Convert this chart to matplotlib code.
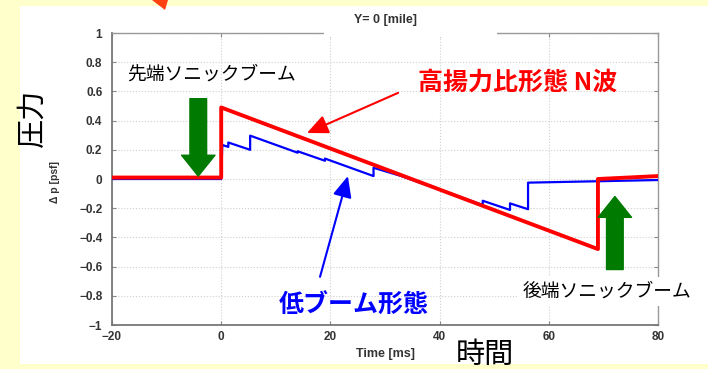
import numpy as np
import matplotlib.pyplot as plt
from matplotlib.patches import Rectangle, Polygon

# 高揚力比形態 N波 (red) and 低ブーム形態 (blue)
redTime = [-20, 0, 0, 69, 69, 80]
redDp = [0.01, 0.01, 0.49, -0.48, 0.0, 0.02]

blueTime = [-20, 0, 0.2, 1.3, 1.3, 5.3, 5.3, 14.0, 14.0, 19.0, 19.0, 27.9, 27.9,
            33.0, 47.9, 47.9, 52.9, 52.9, 56.2, 56.2, 80]
blueDp = [0.0, 0.0, 0.233, 0.22, 0.25, 0.2, 0.297, 0.18, 0.19, 0.125, 0.14, 0.02, 0.077,
          0.02, -0.178, -0.149, -0.212, -0.167, -0.207, -0.025, -0.007]

xTicks = [-20, 0, 20, 40, 60, 80]
yTicks = [-1, -0.8, -0.6, -0.4, -0.2, 0, 0.2, 0.4, 0.6, 0.8, 1]
yTickLabels = ["\u22121", "\u22120.8", "\u22120.6", "\u22120.4", "\u22120.2", "0",
               "0.2", "0.4", "0.6", "0.8", "1"]

W, H = 708, 369
jp = ["Noto Sans CJK JP", "DejaVu Sans"]
lat = "Liberation Sans"


def fx(px):
    return px / W


def fy(py):
    return 1 - py / H


fig = plt.figure(figsize=(W / 100, H / 100), dpi=100, facecolor="#FFFFCC")
fig.patches.append(Rectangle((fx(20), fy(364)), fx(688), 358 / H, transform=fig.transFigure,
                             facecolor="white", edgecolor="none", zorder=-1))
fig.patches.append(Polygon([(fx(152), fy(0)), (fx(168), fy(0)), (fx(165), fy(10))], closed=True,
                           transform=fig.transFigure, facecolor="#FF4010", edgecolor="none"))

ax = fig.add_axes([fx(112), fy(325), 546 / W, 292 / H])
ax.set_facecolor("white")
ax.plot(blueTime, blueDp, color="#0000FF", lw=1.6, zorder=3)
ax.plot(redTime, redDp, color="#FF0000", lw=2.8, zorder=4)

ax.set_xlim(-20, 80)
ax.set_ylim(-1, 1)
ax.set_xticks(xTicks)
ax.set_yticks(yTicks)
ax.set_yticklabels(yTickLabels)
ax.grid(True, linestyle=":", color="#CFCFCF", lw=0.8)
ax.tick_params(direction="in", top=True, right=True, length=3, color="#888888",
               labelsize=8.5, labelcolor="#333333")
ax.tick_params(axis="x", pad=4)
ax.tick_params(axis="y", pad=7)
for lbl in ax.get_xticklabels() + ax.get_yticklabels():
    lbl.set_fontfamily(lat)
    lbl.set_fontweight("bold")
for s in ax.spines.values():
    s.set_color("#999999")
    s.set_linewidth(1.0)
ax.spines["left"].set_color("#777777")
ax.spines["left"].set_linewidth(1.3)
ax.spines["bottom"].set_color("#777777")
ax.spines["bottom"].set_linewidth(1.3)

ax.set_title("Y= 0 [mile]", fontsize=9, fontweight="bold", color="#333333",
             fontfamily=lat, pad=7)
ax.set_xlabel("Time [ms]", fontsize=9, fontweight="bold", color="#333333", fontfamily=lat)
ax.xaxis.set_label_coords(0.5, -0.08)
ax.set_ylabel("\u0394 p [psf]", fontsize=7.5, fontweight="bold", color="#333333",
              fontfamily=lat)
ax.yaxis.set_label_coords(-0.095, 0.49)

# white patch hiding part of the top frame
fig.patches.append(Rectangle((fx(324), fy(37)), fx(173), 8 / H, transform=fig.transFigure,
                             facecolor="white", edgecolor="none", zorder=5))

# arrows
ax.annotate("", xy=(-4.2, 0.02), xytext=(-4.2, 0.55),
            arrowprops=dict(arrowstyle="simple,head_length=0.75,head_width=1.2,tail_width=0.6",
                            mutation_scale=20, color="#007A00", shrinkA=0, shrinkB=0), zorder=6)
ax.annotate("", xy=(72.1, -0.12), xytext=(72.1, -0.62),
            arrowprops=dict(arrowstyle="simple,head_length=0.75,head_width=1.2,tail_width=0.6",
                            mutation_scale=20, color="#007A00", shrinkA=0, shrinkB=0), zorder=6)
ax.annotate("", xy=(15.7, 0.315), xytext=(32.4, 0.59),
            arrowprops=dict(arrowstyle="-|>,head_length=0.4,head_width=0.18",
                            mutation_scale=32, color="#FF0000", lw=1.5, shrinkA=0, shrinkB=0),
            zorder=6)
ax.annotate("", xy=(23.2, 0.02), xytext=(18.1, -0.67),
            arrowprops=dict(arrowstyle="-|>,head_length=0.4,head_width=0.18",
                            mutation_scale=32, color="#0000FF", lw=1.5, shrinkA=0, shrinkB=0),
            zorder=6)

# annotations
ax.text(-1.7, 0.72, "先端ソニックブーム", fontsize=13.5, family=jp, ha="center", va="center",
        color="black")
ax.text(54.2, 0.66, "高揚力比形態 N波", fontsize=18, family=jp, fontweight="bold",
        ha="center", va="center", color="#FF0000")
ax.text(70.7, -0.77, "後端ソニックブーム", fontsize=13.5, family=jp, ha="center", va="center",
        color="black", zorder=7,
        bbox=dict(facecolor="white", edgecolor="none", pad=3))
ax.text(24.3, -0.87, "低ブーム形態", fontsize=18, family=jp, fontweight="bold",
        ha="center", va="center", color="#0000FF")

fig.text(fx(33), fy(118), "圧力", fontsize=21, family=jp, rotation=90, ha="center",
         va="center")
fig.text(fx(485), fy(355), "時間", fontsize=21, family=jp, ha="center", va="center")

fig.savefig("out.png", dpi=100, facecolor=fig.get_facecolor())
